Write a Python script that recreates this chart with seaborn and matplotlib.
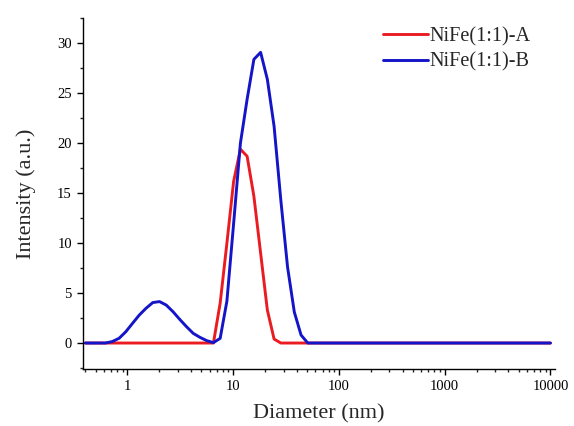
import matplotlib
matplotlib.use('Agg')
import matplotlib.pyplot as plt
import matplotlib.ticker as mticker
import pandas as pd
import seaborn as sns

# velikosti (nm) - standardni biny DLS
diameter = [0.4, 0.4632, 0.5365, 0.6213, 0.7195, 0.8332, 0.9649, 1.117, 1.294, 1.499,
            1.736, 2.010, 2.328, 2.696, 3.122, 3.615, 4.187, 4.849, 5.615, 6.503,
            7.531, 8.721, 10.10, 11.70, 13.54, 15.69, 18.17, 21.04, 24.36, 28.21,
            32.67, 37.84, 43.82, 50.75, 58.77, 68.06, 78.82, 91.28, 105.7, 122.4,
            141.8, 164.2, 190.1, 220.2, 255.0, 295.3, 342.0, 396.1, 458.7, 531.2,
            615.1, 712.4, 825.0, 955.4, 1106, 1281, 1484, 1718, 1990, 2305,
            2669, 3091, 3580, 4145, 4801, 5560, 6439, 7456, 8635, 10000]

# intenzita - vzorek A
intensity_a = [0, 0, 0, 0, 0, 0, 0, 0, 0, 0,
               0, 0, 0, 0, 0, 0, 0, 0, 0, 0,
               4.0, 10.0, 16.2, 19.4, 18.7, 14.7, 9.0, 3.3, 0.4, 0,
               0, 0, 0, 0, 0, 0, 0, 0, 0, 0] + [0] * 30

# intenzita - vzorek B
intensity_b = [0, 0, 0, 0, 0.15, 0.47, 1.13, 1.97, 2.8, 3.48,
               4.05, 4.15, 3.8, 3.14, 2.37, 1.64, 0.97, 0.57, 0.24, 0.04,
               0.47, 4.2, 12.0, 20.0, 24.4, 28.4, 29.1, 26.4, 21.7, 14.3,
               7.6, 3.1, 0.8, 0, 0, 0, 0, 0, 0, 0] + [0] * 30

labels = ['NiFe(1:1)-A', 'NiFe(1:1)-B']

df = pd.concat([
    pd.DataFrame({'Diameter': diameter, 'Intensity': intensity_a, 'Sample': labels[0]}),
    pd.DataFrame({'Diameter': diameter, 'Intensity': intensity_b, 'Sample': labels[1]}),
])

sns.set_style('ticks')
plt.rcParams['font.family'] = ['Liberation Serif', 'DejaVu Serif']

fig = plt.figure(figsize=(5.74, 4.26), dpi=100)
ax = fig.add_axes([0.1446, 0.1338, 0.822, 0.823])

sns.lineplot(data=df, x='Diameter', y='Intensity', hue='Sample',
             palette=['#ea1c22', '#1414c8'], linewidth=2.1, ax=ax, sort=False)

ax.set_xscale('log')
ax.set_xlim(0.38, 11000)
ax.set_ylim(-2.6, 32.5)
ax.xaxis.set_major_locator(mticker.FixedLocator([1, 10, 100, 1000, 10000]))
ax.xaxis.set_major_formatter(mticker.FixedFormatter(['1', '10', '100', '1000', '10000']))
ax.xaxis.set_minor_locator(mticker.LogLocator(base=10, subs=range(2, 10), numticks=20))
ax.xaxis.set_minor_formatter(mticker.NullFormatter())
ax.yaxis.set_major_locator(mticker.MultipleLocator(5))
ax.yaxis.set_minor_locator(mticker.MultipleLocator(2.5))

ax.tick_params(which='major', direction='out', length=4.5, width=1, labelsize=10.5, colors='black')
ax.tick_params(which='minor', direction='out', length=2.5, width=1)
for s in ['top', 'right']:
    ax.spines[s].set_visible(False)
for s in ['left', 'bottom']:
    ax.spines[s].set_linewidth(1)
    ax.spines[s].set_color('black')

ax.set_xlabel('Diameter (nm)', fontsize=16, labelpad=8)
ax.set_ylabel('Intensity (a.u.)', fontsize=16, labelpad=15)

handles, _ = ax.get_legend_handles_labels()
ax.legend(handles, labels, loc='upper left', frameon=False, fontsize=14.6,
          handlelength=2.2, handletextpad=0.1, labelspacing=0.3,
          borderpad=0, borderaxespad=0, bbox_to_anchor=(0.636, 0.975))

fig.savefig('out.png', dpi=100)
